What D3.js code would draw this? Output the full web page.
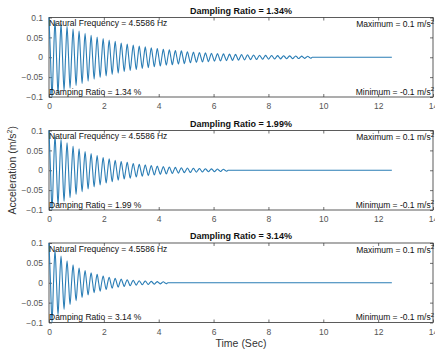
<!DOCTYPE html>
<html>
<head>
<meta charset="utf-8">
<script src="https://cdn.jsdelivr.net/npm/d3@7"></script>
<style>
  body { margin: 0; background: #fff; }
  text { font-family: "Liberation Sans", Arial, sans-serif; }
</style>
</head>
<body>
<script>
// chart values
var natFreq = 4.5586;            // Hz, from the annotation
var tEnd = 12.5;                 // last sample of each record
var dampingRatios = [1.34, 1.99, 3.14];
var xTicks = [0, 2, 4, 6, 8, 10, 12, 14];
var yTicks = [-0.1, -0.05, 0, 0.05, 0.1];

// peak amplitude of each cycle (m/s^2)
var peaks134 = [0.100, 0.092, 0.084, 0.078, 0.071, 0.066, 0.060, 0.055, 0.051, 0.047,
                0.043, 0.040, 0.036, 0.033, 0.031, 0.028, 0.026, 0.024, 0.022, 0.020,
                0.019, 0.017, 0.016, 0.014, 0.013, 0.012, 0.011, 0.010, 0.0095, 0.0087,
                0.008, 0.0073, 0.0068, 0.0062, 0.0057, 0.0052, 0.0048, 0.0044, 0.0041, 0.0037,
                0.0034, 0.0032, 0.0029, 0.0027];
var peaks199 = [0.100, 0.088, 0.078, 0.069, 0.061, 0.054, 0.047, 0.042, 0.037, 0.032,
                0.029, 0.025, 0.022, 0.020, 0.017, 0.015, 0.0135, 0.012, 0.0105, 0.0093,
                0.0082, 0.0072, 0.0064, 0.0056, 0.005, 0.0044, 0.0039, 0.0034, 0.003, 0.0026];
var peaks314 = [0.100, 0.082, 0.067, 0.055, 0.045, 0.037, 0.031, 0.025, 0.021, 0.017,
                0.014, 0.0114, 0.0094, 0.0077, 0.0063, 0.0052, 0.0043, 0.0035, 0.0029, 0.0024];
var panelPeaks = [peaks134, peaks199, peaks314];

var W = 435, H = 352;
var left = 49, right = 433;
var panelTops = [17.5, 130.5, 243];
var panelH = 79.5;

var svg = d3.select("body").append("svg")
    .attr("width", W).attr("height", H);

var x = d3.scaleLinear().domain([0, 14]).range([left, right]);

// build the trace of one record from its cycle peaks
function trace(peaks) {
    var T = 1 / natFreq, pts = [];
    peaks.forEach(function(a, k) {
        var t0 = k * T;
        pts.push([t0, a], [t0 + T / 4, 0], [t0 + T / 2, -a], [t0 + 3 * T / 4, 0]);
    });
    pts.push([tEnd, 0]);
    return pts;
}

panelPeaks.forEach(function(peaks, i) {
    var top = panelTops[i], bot = top + panelH;
    var y = d3.scaleLinear().domain([-0.1, 0.1]).range([bot, top]);
    var g = svg.append("g");

    // frame
    g.append("rect")
        .attr("x", left).attr("y", top)
        .attr("width", right - left).attr("height", panelH)
        .attr("fill", "none").attr("stroke", "#333").attr("stroke-width", 0.8);

    // ticks (inside, like the original)
    var bx = g.append("g").attr("transform", "translate(0," + bot + ")")
        .call(d3.axisBottom(x).tickValues(xTicks).tickSize(-3).tickPadding(6).tickFormat(d3.format("d")));
    var tx = g.append("g").attr("transform", "translate(0," + top + ")")
        .call(d3.axisTop(x).tickValues(xTicks).tickSize(-3).tickFormat(""));
    var ly = g.append("g").attr("transform", "translate(" + left + ",0)")
        .call(d3.axisLeft(y).tickValues(yTicks).tickSize(-3).tickPadding(6).tickFormat(d3.format("")));
    var ry = g.append("g").attr("transform", "translate(" + right + ",0)")
        .call(d3.axisRight(y).tickValues(yTicks).tickSize(-3).tickFormat(""));
    [bx, tx, ly, ry].forEach(function(a) {
        a.select(".domain").remove();
        a.selectAll(".tick line").attr("stroke", "#333").attr("stroke-width", 0.7);
        a.selectAll(".tick text").attr("fill", "#555").attr("font-size", 8.5)
            .attr("font-family", "Liberation Sans, Arial, sans-serif");
    });

    // signal
    var line = d3.line()
        .x(function(d) { return x(d[0]); })
        .y(function(d) { return y(d[1]); })
        .curve(d3.curveMonotoneX);
    g.append("path")
        .datum(trace(peaks))
        .attr("d", line)
        .attr("fill", "none")
        .attr("stroke", "#2a7db5")
        .attr("stroke-width", 1.1);

    // title
    g.append("text")
        .attr("x", (left + right) / 2).attr("y", top - 4)
        .attr("text-anchor", "middle")
        .attr("font-size", 9).attr("font-weight", "bold").attr("fill", "#111")
        .text("Dampling Ratio = " + dampingRatios[i].toFixed(2) + "%");

    // annotations
    g.append("text").attr("x", left).attr("y", top + 8.5)
        .attr("font-size", 8.5).attr("fill", "#111")
        .text("Natural Frequency = " + natFreq + " Hz");
    g.append("text").attr("x", left).attr("y", bot - 2.5)
        .attr("font-size", 8.5).attr("fill", "#111")
        .text("Damping Ratio = " + dampingRatios[i].toFixed(2) + " %");

    var mx = g.append("text").attr("x", right + 1).attr("y", top + 9.5)
        .attr("text-anchor", "end").attr("font-size", 8.5).attr("fill", "#111");
    mx.append("tspan").text("Maximum = " + d3.max(yTicks) + " m/s");
    mx.append("tspan").attr("font-size", 6).attr("dy", -3.5).text("2");

    var mn = g.append("text").attr("x", right + 1).attr("y", bot - 2.5)
        .attr("text-anchor", "end").attr("font-size", 8.5).attr("fill", "#111");
    mn.append("tspan").text("Minimum = " + d3.min(yTicks) + " m/s");
    mn.append("tspan").attr("font-size", 6).attr("dy", -3.5).text("2");
});

// axis labels
var yl = svg.append("text")
    .attr("transform", "translate(16," + (panelTops[1] + panelH / 2) + ") rotate(-90)")
    .attr("text-anchor", "middle").attr("font-size", 10.5).attr("fill", "#333");
yl.append("tspan").text("Acceleration (m/s");
yl.append("tspan").attr("font-size", 7).attr("dy", -4).text("2");
yl.append("tspan").attr("dy", 4).text(")");

svg.append("text")
    .attr("x", (left + right) / 2).attr("y", 347)
    .attr("text-anchor", "middle").attr("font-size", 10.5).attr("fill", "#333")
    .text("Time (Sec)");
</script>
</body>
</html>
